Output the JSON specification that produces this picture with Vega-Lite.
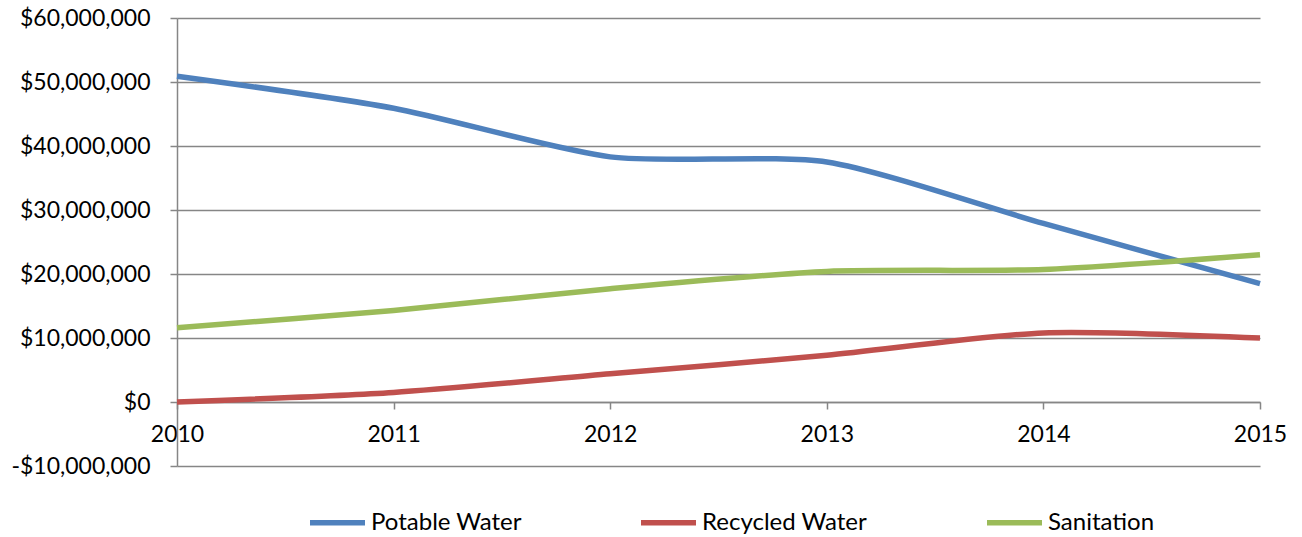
{
  "$schema": "https://vega.github.io/schema/vega-lite/v6.json",
  "width": 1083,
  "height": 448,
  "autosize": {"type": "none"},
  "padding": {"left": 177, "top": 18, "right": 42, "bottom": 71},
  "background": "white",
  "config": {"view": {"stroke": null}, "font": "Lato"},
  "data": {
    "values": [
      {"year": 2010, "series": "Potable Water", "value": 50900000},
      {"year": 2011, "series": "Potable Water", "value": 45900000},
      {"year": 2012, "series": "Potable Water", "value": 38300000},
      {"year": 2013, "series": "Potable Water", "value": 37500000},
      {"year": 2014, "series": "Potable Water", "value": 27900000},
      {"year": 2015, "series": "Potable Water", "value": 18500000},
      {"year": 2010, "series": "Recycled Water", "value": 0},
      {"year": 2011, "series": "Recycled Water", "value": 1500000},
      {"year": 2012, "series": "Recycled Water", "value": 4400000},
      {"year": 2013, "series": "Recycled Water", "value": 7300000},
      {"year": 2014, "series": "Recycled Water", "value": 10800000},
      {"year": 2015, "series": "Recycled Water", "value": 10000000},
      {"year": 2010, "series": "Sanitation", "value": 11600000},
      {"year": 2011, "series": "Sanitation", "value": 14300000},
      {"year": 2012, "series": "Sanitation", "value": 17700000},
      {"year": 2013, "series": "Sanitation", "value": 20400000},
      {"year": 2014, "series": "Sanitation", "value": 20700000},
      {"year": 2015, "series": "Sanitation", "value": 23000000}
    ]
  },
  "mark": {"type": "line", "strokeWidth": 5.5, "interpolate": "cardinal", "tension": 0.3},
  "encoding": {
    "x": {
      "field": "year",
      "type": "quantitative",
      "scale": {"domain": [2010, 2015], "nice": false, "zero": false},
      "axis": {
        "values": [2010, 2011, 2012, 2013, 2014, 2015],
        "format": "d",
        "title": null,
        "grid": false,
        "offset": -64,
        "domainColor": "#868686",
        "domainWidth": 1.5,
        "tickColor": "#868686",
        "tickWidth": 1.5,
        "tickSize": 7,
        "labelFont": "Lato",
        "labelFontSize": 23,
        "labelColor": "#000000",
        "labelPadding": 14,
        "labelFlush": false,
        "labelOverlap": false
      }
    },
    "y": {
      "field": "value",
      "type": "quantitative",
      "scale": {"domain": [-10000000, 60000000], "nice": false, "zero": false},
      "axis": {
        "values": [-10000000, 0, 10000000, 20000000, 30000000, 40000000, 50000000, 60000000],
        "labelExpr": "datum.value < 0 ? '-' + format(-datum.value, '$,') : format(datum.value, '$,')",
        "title": null,
        "grid": true,
        "gridColor": "#868686",
        "gridWidth": 1.5,
        "domainColor": "#868686",
        "domainWidth": 1.5,
        "tickColor": "#868686",
        "tickWidth": 1.5,
        "tickSize": 7,
        "labelFont": "Lato",
        "labelFontSize": 23,
        "labelColor": "#000000",
        "labelPadding": 20,
        "labelOverlap": false
      }
    },
    "color": {
      "field": "series",
      "type": "nominal",
      "scale": {
        "domain": ["Potable Water", "Recycled Water", "Sanitation"],
        "range": ["#4F81BD", "#C0504D", "#9BBB59"]
      },
      "legend": {
        "orient": "none",
        "legendX": 130,
        "legendY": 474,
        "direction": "horizontal",
        "title": null,
        "symbolType": "stroke",
        "symbolSize": 3025,
        "symbolStrokeWidth": 5.5,
        "labelFont": "Lato",
        "labelFontSize": 24,
        "labelColor": "#000000",
        "labelOffset": 3,
        "labelLimit": 400,
        "columnPadding": 108
      }
    }
  }
}
